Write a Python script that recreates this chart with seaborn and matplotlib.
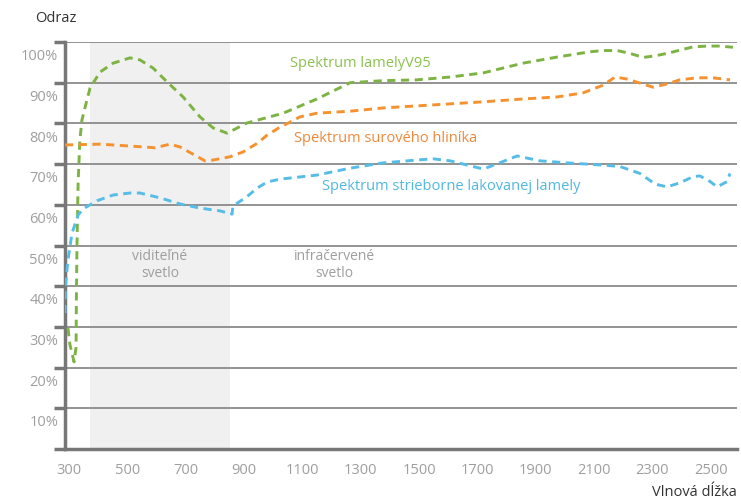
import numpy as np
import pandas as pd
import matplotlib
matplotlib.use("Agg")
import matplotlib.pyplot as plt
import seaborn as sns

# ---- data (wavelength nm, reflectance %) ----
green_x = [295, 302, 316, 323, 324, 326, 330, 336, 343, 360, 371, 405, 450, 508, 542, 587, 635,
           690, 748, 793, 841, 909, 1033, 1149, 1263, 1376, 1492, 1606, 1719, 1856, 1973, 2086,
           2131, 2179, 2223, 2268, 2309, 2350, 2394, 2439, 2487, 2532, 2576]
green_y = [29.7, 25.6, 21.4, 25.0, 36.6, 49.6, 65.4, 75.9, 80.8, 85.7, 88.7, 92.6, 94.8, 96.1, 95.6,
           93.6, 90.2, 86.5, 81.6, 78.9, 77.6, 80.1, 82.5, 86.0, 90.0, 90.5, 90.7, 91.4, 92.4, 94.8,
           96.3, 97.6, 97.9, 97.9, 97.2, 96.2, 96.6, 97.2, 98.0, 98.8, 99.0, 99.0, 98.7]

orange_x = [285, 405, 559, 594, 645, 680, 765, 793, 851, 896, 944, 978, 1016, 1091, 1149, 1263,
            1376, 1492, 1606, 1719, 1856, 1973, 2062, 2131, 2172, 2213, 2257, 2302, 2350, 2394,
            2453, 2508, 2566]
orange_y = [74.7, 74.9, 74.2, 74.0, 74.9, 74.2, 70.8, 71.0, 71.8, 73.0, 75.1, 77.1, 78.8, 81.6,
            82.5, 83.0, 83.8, 84.3, 84.8, 85.3, 86.0, 86.5, 87.5, 89.4, 91.4, 90.9, 89.9, 88.9,
            89.7, 90.7, 91.2, 91.2, 90.7]

blue_x = [285, 286, 295, 309, 330, 347, 395, 450, 508, 542, 611, 680, 748, 817, 858, 861, 909,
          944, 978, 1022, 1149, 1263, 1376, 1492, 1547, 1606, 1719, 1743, 1836, 1914, 2028,
          2120, 2189, 2257, 2309, 2350, 2394, 2439, 2463, 2498, 2522, 2556, 2566]
blue_y = [33.4, 39.8, 46.4, 53.0, 57.5, 59.0, 61.0, 62.4, 62.9, 62.9, 61.7, 60.2, 59.2, 58.5,
          57.7, 59.7, 62.0, 64.1, 65.6, 66.3, 67.3, 69.0, 70.3, 71.0, 71.3, 70.8, 68.8, 69.4,
          72.0, 70.8, 70.2, 69.8, 69.4, 67.7, 65.1, 64.4, 65.4, 66.9, 67.1, 65.7, 64.4, 65.7, 67.7]

series_names = ["Spektrum lamelyV95", "Spektrum surového hliníka",
                "Spektrum strieborne lakovanej lamely"]
x_ticks = [300, 500, 700, 900, 1100, 1300, 1500, 1700, 1900, 2100, 2300, 2500]
y_grid = [0, 10, 20, 30, 40, 50, 60, 70, 80, 90, 100]
y_labels = ["10%", "20%", "30%", "40%", "50%", "60%", "70%", "80%", "90%", "100%"]

df = pd.concat([
    pd.DataFrame({"x": green_x, "y": green_y, "s": series_names[0]}),
    pd.DataFrame({"x": orange_x, "y": orange_y, "s": series_names[1]}),
    pd.DataFrame({"x": blue_x, "y": blue_y, "s": series_names[2]}),
], ignore_index=True)

colors = {series_names[0]: "#7cb342", series_names[1]: "#f5922f", series_names[2]: "#55bde8"}

sns.set_theme(style="white")
plt.rcParams["font.family"] = ["Open Sans", "DejaVu Sans"]

fig = plt.figure(figsize=(7.41, 5.01), dpi=100)
ax = fig.add_axes([65 / 741, 1 - 449 / 501, (737 - 65) / 741, (449 - 42) / 501])

ax.axvspan(370, 850, color="#f0f0f0", zorder=0, lw=0)
for g in y_grid[1:]:
    ax.axhline(g, color="#8a8a8a", lw=1.3, zorder=1)

sns.lineplot(data=df, x="x", y="y", hue="s", palette=colors, estimator=None, sort=False,
             legend=False, ax=ax, lw=2.1, zorder=3)
for ln in ax.get_lines()[-3:]:
    ln.set_linestyle((0, (2.8, 1.9)))

ax.set_xlim(285, 2590)
ax.set_ylim(0, 100)

# y-axis: gridline ticks without labels, labels offset below gridlines
ax.set_yticks(y_grid)
ax.set_yticklabels([])
ax.tick_params(axis="y", which="major", left=True, length=8, width=2.5, color="#777777")
ax.set_yticks([v - 3.1 for v in y_grid[1:]], minor=True)
ax.set_yticklabels(y_labels, minor=True)
ax.tick_params(axis="y", which="minor", length=0, pad=5, labelsize=10.5, labelcolor="#9e9e9e")

ax.set_xticks(x_ticks)
ax.set_xticklabels([str(v) for v in x_ticks])
ax.tick_params(axis="x", length=0, pad=10, labelsize=10.5, labelcolor="#9e9e9e")

for side in ["top", "right"]:
    ax.spines[side].set_visible(False)
ax.spines["left"].set_color("#777777")
ax.spines["left"].set_linewidth(2.5)
ax.spines["bottom"].set_color("#777777")
ax.spines["bottom"].set_linewidth(2.5)
ax.set_xlabel("")
ax.set_ylabel("")

# annotations
ax.text(611, 45.2, "viditeľné\nsvetlo", ha="center", va="center", fontsize=10,
        color="#9e9e9e", linespacing=1.1)
ax.text(1208, 45.2, "infračervené\nsvetlo", ha="center", va="center", fontsize=10,
        color="#9e9e9e", linespacing=1.1)
ax.text(1057, 94.8, series_names[0], ha="left", va="center", fontsize=10.5, color="#8cc04f")
ax.text(1071, 76.4, series_names[1], ha="left", va="center", fontsize=10.5, color="#f0883a")
ax.text(1167, 64.6, series_names[2], ha="left", va="center", fontsize=10.5, color="#4fb8e3")

fig.text(35 / 741, 1 - 18 / 501, "Odraz", ha="left", va="center", fontsize=10.5, color="#333333")
fig.text(737 / 741, 1 - 492 / 501, "Vlnová dĺžka", ha="right", va="center", fontsize=10.5,
         color="#333333")

fig.savefig("out.png", dpi=100)
